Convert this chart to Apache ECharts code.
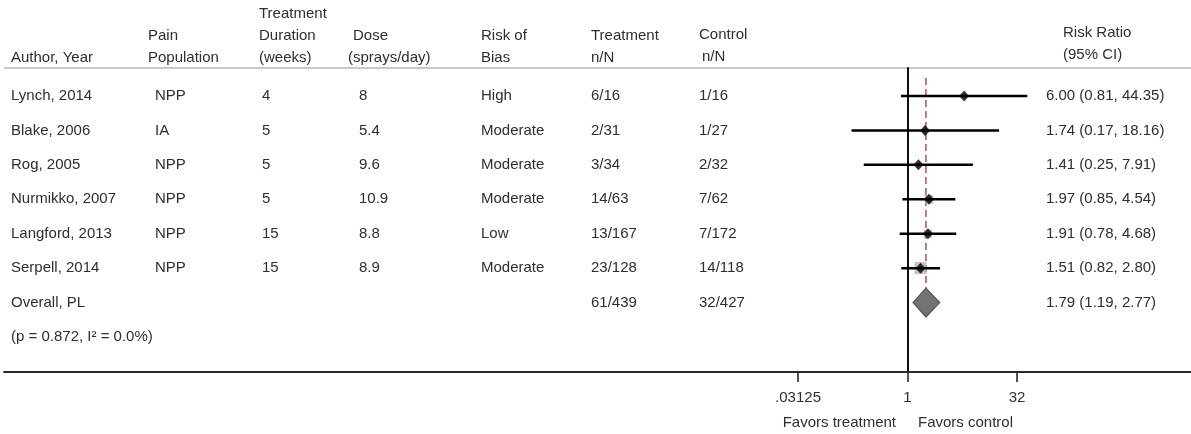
<!DOCTYPE html>
<html>
<head>
<meta charset="utf-8">
<script src="https://cdn.jsdelivr.net/npm/echarts@6/dist/echarts.min.js"></script>
<style>
  html, body { margin: 0; padding: 0; background: #ffffff; }
  #chart { width: 1191px; height: 434px; }
</style>
</head>
<body>
<div id="chart"></div>
<script>
// Study-level data
const authors    = ['Lynch, 2014', 'Blake, 2006', 'Rog, 2005', 'Nurmikko, 2007', 'Langford, 2013', 'Serpell, 2014'];
const population = ['NPP', 'IA', 'NPP', 'NPP', 'NPP', 'NPP'];
const duration   = ['4', '5', '5', '5', '15', '15'];
const dose       = ['8', '5.4', '9.6', '10.9', '8.8', '8.9'];
const bias       = ['High', 'Moderate', 'Moderate', 'Moderate', 'Low', 'Moderate'];
const treatN     = ['6/16', '2/31', '3/34', '14/63', '13/167', '23/128'];
const controlN   = ['1/16', '1/27', '2/32', '7/62', '7/172', '14/118'];
const riskRatio  = [6.00, 1.74, 1.41, 1.97, 1.91, 1.51];
const ciLower    = [0.81, 0.17, 0.25, 0.85, 0.78, 0.82];
const ciUpper    = [44.35, 18.16, 7.91, 4.54, 4.68, 2.80];
const weightPct  = [4.1, 3.0, 5.5, 23.4, 20.5, 43.5];

// Pooled estimate
const overallLabel   = 'Overall, PL';
const overallTreatN  = '61/439';
const overallControl = '32/427';
const overallRR      = 1.79;
const overallLower   = 1.19;
const overallUpper   = 2.77;
const heterogeneity  = '(p = 0.872, I² = 0.0%)';

// Axis ticks (log2 scale)
const tickValues = [-5, 0, 5];
const tickLabels = ['.03125', '1', '32'];

const FONT = '"Liberation Sans", Arial, Helvetica, sans-serif';
const TXT = '#2e2e2e';
const FS = 15;

const fmt = v => v.toFixed(2);
const rrText = (r, l, u) => fmt(r) + ' (' + fmt(l) + ', ' + fmt(u) + ')';
const lg = Math.log2;

const nStudies = authors.length;
const overallRow = nStudies;
const hetRow = nStudies + 1;

// Column layout for the table text
const cols = {
  author: 11, pop: 155, dur: 262, dose: 359, bias: 481, trt: 591, ctl: 699, rr: 1046
};

// Rows drawn by the table series
const tableRows = [];
for (let i = 0; i < nStudies; i++) {
  tableRows.push({
    value: [0, i],
    cells: [
      [cols.author, authors[i]], [cols.pop, population[i]], [cols.dur, duration[i]],
      [cols.dose, dose[i]], [cols.bias, bias[i]], [cols.trt, treatN[i]],
      [cols.ctl, controlN[i]], [cols.rr, rrText(riskRatio[i], ciLower[i], ciUpper[i])]
    ]
  });
}
tableRows.push({
  value: [0, overallRow],
  cells: [[cols.author, overallLabel], [cols.trt, overallTreatN], [cols.ctl, overallControl],
          [cols.rr, rrText(overallRR, overallLower, overallUpper)]]
});
tableRows.push({ value: [0, hetRow], cells: [[cols.author, heterogeneity]] });

const ciData = riskRatio.map((r, i) => [lg(ciLower[i]), lg(ciUpper[i]), i]);
const pointData = riskRatio.map((r, i) => [lg(r), i]);
const boxData = riskRatio.map((r, i) => ({ value: [lg(r), i], symbolSize: 1.82 * Math.sqrt(weightPct[i]) }));

// Column headings
const headers = [
  { x: 11,   lines: [[58, 'Author, Year']] },
  { x: 148,  lines: [[36, 'Pain'], [58, 'Population']] },
  { x: 259,  lines: [[14, 'Treatment'], [36, 'Duration'], [58, '(weeks)']] },
  { x: 353,  lines: [[36, 'Dose']] },
  { x: 348,  lines: [[58, '(sprays/day)']] },
  { x: 481,  lines: [[36, 'Risk of'], [58, 'Bias']] },
  { x: 591,  lines: [[36, 'Treatment'], [58, 'n/N']] },
  { x: 699,  lines: [[35, 'Control']] },
  { x: 702,  lines: [[57, 'n/N']] },
  { x: 1063, lines: [[33, 'Risk Ratio'], [55, '(95% CI)']] }
];
const headerGraphics = [];
headers.forEach(h => h.lines.forEach(([y, t]) => headerGraphics.push({
  type: 'text', x: h.x, y: y, silent: true,
  style: { text: t, fill: TXT, font: FS + 'px ' + FONT, verticalAlign: 'middle', align: 'left' }
})));

const chart = echarts.init(document.getElementById('chart'), null, { renderer: 'canvas' });

chart.setOption({
  backgroundColor: '#ffffff',
  animation: false,
  grid: { left: 4, right: 0, top: 68, bottom: 62, containLabel: false },
  xAxis: {
    type: 'value',
    min: -41.26, max: 12.945,
    splitLine: { show: false },
    axisLine: { show: true, onZero: false, lineStyle: { color: '#2a2a2a', width: 2 } },
    axisTick: { show: true, customValues: tickValues, length: 10, inside: false, lineStyle: { color: '#2a2a2a', width: 1.6 } },
    axisLabel: {
      customValues: tickValues, margin: 18, color: TXT, fontFamily: FONT, fontSize: FS,
      formatter: v => tickLabels[tickValues.indexOf(Math.round(v))]
    }
  },
  yAxis: {
    type: 'value', inverse: true, min: -0.813, max: 8.017,
    splitLine: { show: false },
    axisLine: { show: true, onZero: true, lineStyle: { color: '#111111', width: 2 } },
    axisTick: { show: false }, axisLabel: { show: false }
  },
  graphic: headerGraphics.concat([
    { type: 'line', silent: true, shape: { x1: 4, y1: 68, x2: 1191, y2: 68 },
      style: { stroke: '#c9c9c9', lineWidth: 2 } },
    { type: 'text', x: 896, y: 423, silent: true,
      style: { text: 'Favors treatment', fill: TXT, font: FS + 'px ' + FONT, align: 'right', verticalAlign: 'middle' } },
    { type: 'text', x: 918, y: 423, silent: true,
      style: { text: 'Favors control', fill: TXT, font: FS + 'px ' + FONT, align: 'left', verticalAlign: 'middle' } }
  ]),
  series: [
    {
      // table text
      type: 'custom', name: 'table', silent: true, clip: false,
      data: tableRows,
      renderItem: (params, api) => {
        const row = tableRows[params.dataIndex];
        const y = api.coord([0, api.value(1)])[1];
        return {
          type: 'group',
          children: row.cells.map(([x, t]) => ({
            type: 'text',
            style: { x: x, y: y, text: t, fill: TXT, font: FS + 'px ' + FONT, verticalAlign: 'middle', align: 'left' }
          }))
        };
      }
    },
    {
      // pooled estimate reference line
      type: 'line', name: 'pooled', silent: true, symbol: 'none',
      data: [[lg(overallRR), -0.52], [lg(overallRR), overallRow + 0.45]],
      lineStyle: { color: '#b8585a', width: 1.6, type: [7, 4] },
      z: 1
    },
    {
      // study weight boxes
      type: 'scatter', name: 'weight', silent: true, symbol: 'rect',
      data: boxData,
      itemStyle: { color: '#b4b4b4' },
      z: 2
    },
    {
      // confidence intervals
      type: 'custom', name: 'ci', silent: true, clip: false,
      data: ciData,
      renderItem: (params, api) => {
        const a = api.coord([api.value(0), api.value(2)]);
        const b = api.coord([api.value(1), api.value(2)]);
        return {
          type: 'line',
          shape: { x1: a[0], y1: a[1], x2: b[0], y2: b[1] },
          style: { stroke: '#000000', lineWidth: 2.5 }
        };
      },
      z: 3
    },
    {
      // point estimates
      type: 'scatter', name: 'estimate', silent: true, symbol: 'diamond',
      symbolSize: [10, 11],
      data: pointData,
      itemStyle: { color: '#000000' },
      z: 4
    },
    {
      // pooled diamond
      type: 'custom', name: 'overall', silent: true, clip: false,
      data: [[lg(overallLower), lg(overallRR), lg(overallUpper), overallRow]],
      renderItem: (params, api) => {
        const r = api.value(3), h = 0.42;
        const pts = [
          api.coord([api.value(0), r]),
          api.coord([api.value(1), r - h]),
          api.coord([api.value(2), r]),
          api.coord([api.value(1), r + h])
        ];
        return {
          type: 'polygon',
          shape: { points: pts },
          style: { fill: '#737373', stroke: '#575757', lineWidth: 1.2 }
        };
      },
      z: 5
    }
  ]
});
</script>
</body>
</html>
